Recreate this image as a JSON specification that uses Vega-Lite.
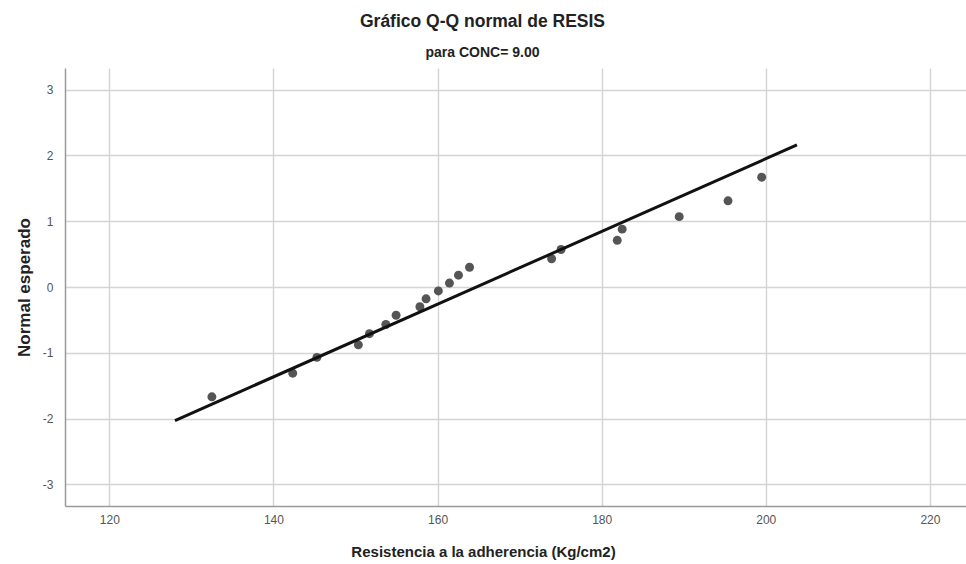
{
  "$schema": "https://vega.github.io/schema/vega-lite/v6.json",
  "width": 901,
  "height": 438,
  "autosize": {"type": "none"},
  "padding": {"left": 65, "top": 68, "right": 0, "bottom": 58},
  "background": "white",
  "title": {
    "text": "Gráfico Q-Q normal de RESIS",
    "subtitle": "para CONC= 9.00",
    "anchor": "middle",
    "dx": -33,
    "offset": 8,
    "font": "Liberation Sans",
    "fontSize": 17.5,
    "fontWeight": "bold",
    "color": "#222222",
    "subtitleFont": "Liberation Sans Narrow, Liberation Sans",
    "subtitleFontSize": 14,
    "subtitleFontWeight": "bold",
    "subtitleColor": "#222222",
    "subtitlePadding": 16
  },
  "datasets": {
    "puntos": [
      {"resistencia": 132.5, "normal": -1.67},
      {"resistencia": 142.35, "normal": -1.31},
      {"resistencia": 145.3, "normal": -1.07},
      {"resistencia": 150.35, "normal": -0.88},
      {"resistencia": 151.7, "normal": -0.71},
      {"resistencia": 153.7, "normal": -0.57},
      {"resistencia": 154.95, "normal": -0.43},
      {"resistencia": 157.85, "normal": -0.3},
      {"resistencia": 158.6, "normal": -0.18},
      {"resistencia": 160.1, "normal": -0.06},
      {"resistencia": 161.45, "normal": 0.06},
      {"resistencia": 162.55, "normal": 0.18},
      {"resistencia": 163.9, "normal": 0.3},
      {"resistencia": 173.9, "normal": 0.43},
      {"resistencia": 175.05, "normal": 0.57},
      {"resistencia": 181.9, "normal": 0.71},
      {"resistencia": 182.5, "normal": 0.88},
      {"resistencia": 189.45, "normal": 1.07},
      {"resistencia": 195.4, "normal": 1.31},
      {"resistencia": 199.5, "normal": 1.67}
    ],
    "recta": [
      {"resistencia": 128.0, "normal": -2.03},
      {"resistencia": 203.8, "normal": 2.16}
    ]
  },
  "encoding": {
    "x": {
      "field": "resistencia",
      "type": "quantitative",
      "title": "Resistencia a la adherencia (Kg/cm2)",
      "scale": {"domain": [114.6, 224.4], "nice": false, "zero": false},
      "axis": {
        "values": [120, 140, 160, 180, 200, 220],
        "labelPadding": 8,
        "titlePadding": 19,
        "titleX": 418
      }
    },
    "y": {
      "field": "normal",
      "type": "quantitative",
      "title": "Normal esperado",
      "scale": {"domain": [-3.33, 3.33], "nice": false, "zero": false},
      "axis": {
        "values": [-3, -2, -1, 0, 1, 2, 3],
        "labelExpr": "datum.value < 0 ? '-' + abs(datum.value) : '' + datum.value",
        "labelPadding": 12,
        "titlePadding": 9,
        "titleFontSize": 17
      }
    }
  },
  "layer": [
    {
      "data": {"name": "puntos"},
      "mark": {"type": "point", "filled": true, "size": 80, "color": "#555555", "opacity": 1}
    },
    {
      "data": {"name": "recta"},
      "mark": {"type": "line", "color": "#111111", "strokeWidth": 3}
    }
  ],
  "config": {
    "view": {"stroke": null},
    "axis": {
      "domainColor": "#9a9a9a",
      "domainWidth": 1.5,
      "ticks": false,
      "grid": true,
      "gridColor": "#d4d4d4",
      "gridWidth": 1.4,
      "labelColor": "#555555",
      "labelFont": "Liberation Sans Narrow, Liberation Sans",
      "labelFontSize": 12,
      "titleFont": "Liberation Sans",
      "titleFontSize": 15,
      "titleFontWeight": "bold",
      "titleColor": "#222222"
    }
  }
}
